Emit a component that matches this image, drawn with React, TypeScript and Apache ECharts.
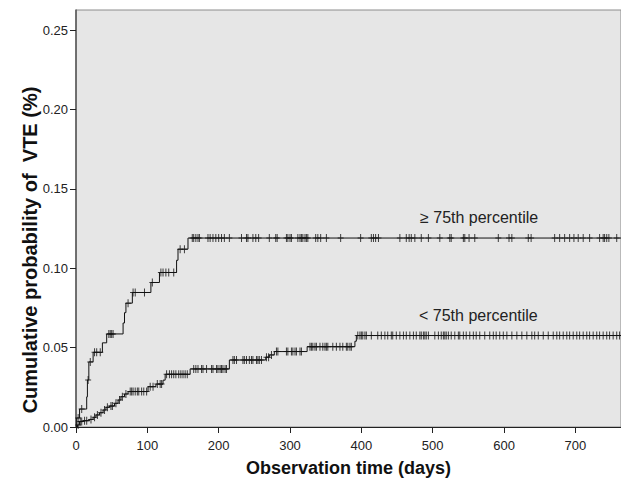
import React, { useEffect, useRef } from "react";
import * as echarts from "echarts";

// ---- Data ----
const xTicks = [0, 100, 200, 300, 400, 500, 600, 700];
const yTicks = [0, 0.05, 0.1, 0.15, 0.2, 0.25];
const X_MAX = 764;
const Y_MAX = 0.2626;

// >= 75th percentile group: event times (days) and cumulative probability
const upperTimes = [0, 1, 5, 15, 16, 18, 24, 37, 43, 66, 68, 70, 79, 105, 117, 141, 143, 157];
const upperProb = [0, 0.0057, 0.0113, 0.019, 0.0296, 0.041, 0.047, 0.053, 0.0586, 0.0655, 0.072, 0.078, 0.0847, 0.091, 0.0973, 0.105, 0.112, 0.119];
const upperCensored = [
  3, 8, 17, 20, 26, 29, 34, 46, 48, 50, 52, 73, 80, 83, 96, 107, 119, 122, 126, 130, 137, 146, 152,
  163, 165, 168, 171, 173, 185, 188, 192, 196, 200, 204, 208, 215, 232, 239, 241, 248, 252, 256, 271,
  280, 282, 295, 297, 300, 302, 311, 314, 316, 318, 321, 323, 325, 336, 339, 343, 351, 371, 399, 414,
  417, 420, 424, 454, 463, 467, 470, 475, 484, 494, 510, 524, 526, 543, 545, 551, 559, 592, 607, 611,
  634, 638, 671, 678, 685, 692, 698, 704, 711, 720, 734, 739, 741, 744, 747, 758,
];

// < 75th percentile group
const lowerTimes = [0, 2, 5, 10, 19, 24, 28, 33, 38, 42, 47, 54, 59, 63, 68, 73, 101, 112, 122, 125, 160, 215, 266, 271, 278, 324, 391, 393];
const lowerProb = [0, 0.0013, 0.0034, 0.004, 0.0048, 0.0061, 0.0076, 0.009, 0.0107, 0.0124, 0.0132, 0.0149, 0.017, 0.0191, 0.0208, 0.0223, 0.0254, 0.027, 0.0295, 0.0332, 0.0366, 0.0422, 0.044, 0.0454, 0.0475, 0.0506, 0.054, 0.0576];
const lowerCensored = [
  3, 6, 8, 12, 15, 21, 26, 30, 35, 40, 44, 49, 51, 56, 61, 65, 70, 76, 78, 80, 83, 86, 88, 92, 95, 99,
  104, 108, 114, 118, 120, 127, 131, 134, 137, 140, 144, 147, 150, 153, 156, 165, 168, 171, 176, 178,
  183, 190, 192, 197, 199, 202, 204, 206, 209, 211, 220, 222, 225, 234, 236, 239, 243, 246, 248, 253,
  255, 257, 260, 267, 270, 274, 281, 283, 295, 297, 302, 304, 307, 309, 314, 316, 328, 330, 332, 335,
  337, 342, 346, 349, 351, 353, 360, 365, 370, 374, 379, 381, 384, 386, 395, 398, 400, 402, 405, 407,
  414, 423, 428, 433, 437, 442, 444, 449, 454, 459, 463, 468, 473, 477, 482, 484, 487, 489, 491, 494,
  503, 508, 512, 515, 517, 519, 522, 526, 531, 536, 538, 543, 547, 552, 557, 561, 566, 573, 580, 585,
  589, 594, 599, 604, 611, 618, 625, 632, 639, 643, 648, 655, 662, 669, 674, 678, 683, 688, 692, 697,
  702, 706, 711, 716, 720, 725, 730, 734, 739, 744, 748, 753, 758, 762,
];

const upperLabel = "\u2265 75th percentile";
const lowerLabel = "< 75th percentile";
const xTitle = "Observation time (days)";
const yTitle = "Cumulative probability of  VTE (%)";

function stepAt(times: number[], probs: number[], t: number) {
  let v = probs[0];
  for (let i = 0; i < times.length; i++) if (times[i] <= t) v = probs[i];
  return v;
}
function stepSeries(times: number[], probs: number[]) {
  const d = times.map((t, i) => [t, probs[i]]);
  d.push([X_MAX, probs[probs.length - 1]]);
  return d;
}
function censorSeries(times: number[], probs: number[], cens: number[]) {
  return cens.map((t) => [t, stepAt(times, probs, t)]);
}

const FONT = "'Liberation Sans', Arial, Helvetica, sans-serif";
const PLUS = "path://M2.5,0h1v8h-1zM0,3.5h6v1h-6z";

export default function App() {
  const ref = useRef<HTMLDivElement>(null);
  useEffect(() => {
    const chart = echarts.init(ref.current!, null, { renderer: "svg" });
    const lineStyle = { color: "#111", width: 1 };
    chart.setOption({
      animation: false,
      grid: {
        left: 76, right: 0, top: 10, bottom: 52, show: true,
        backgroundColor: "#e6e6e6", borderColor: "#8c8c8c", borderWidth: 1,
      },
      xAxis: {
        type: "value", min: 0, max: X_MAX, interval: 100,
        axisLine: { show: true, onZero: false, lineStyle: { color: "#222", width: 1 } },
        axisTick: { show: true, length: 6, customValues: xTicks, lineStyle: { color: "#222" } },
        axisLabel: { customValues: xTicks, margin: 12, fontSize: 13, color: "#222", fontFamily: FONT },
        splitLine: { show: false },
      },
      yAxis: {
        type: "value", min: 0, max: Y_MAX, interval: 0.05,
        axisLine: { show: true, onZero: false, lineStyle: { color: "#555", width: 1.5 } },
        axisTick: { show: true, length: 6, customValues: yTicks, lineStyle: { color: "#222" } },
        axisLabel: {
          customValues: yTicks, margin: 8, fontSize: 13, color: "#222", fontFamily: FONT,
          formatter: (v: number) => v.toFixed(2),
        },
        splitLine: { show: false },
      },
      series: [
        { type: "line", step: "end", data: stepSeries(upperTimes, upperProb), showSymbol: false, lineStyle, silent: true },
        { type: "line", step: "end", data: stepSeries(lowerTimes, lowerProb), showSymbol: false, lineStyle, silent: true },
        { type: "scatter", data: censorSeries(upperTimes, upperProb, upperCensored), symbol: PLUS, symbolSize: [6, 8], itemStyle: { color: "#111" }, silent: true },
        { type: "scatter", data: censorSeries(lowerTimes, lowerProb, lowerCensored), symbol: PLUS, symbolSize: [6, 8], itemStyle: { color: "#111" }, silent: true },
      ],
      graphic: [
        { type: "text", x: 420, y: 217, style: { text: upperLabel, fontSize: 16, fontFamily: FONT, fill: "#222", verticalAlign: "middle", align: "left" } },
        { type: "text", x: 419, y: 315, style: { text: lowerLabel, fontSize: 16, fontFamily: FONT, fill: "#222", verticalAlign: "middle", align: "left" } },
        { type: "text", x: 348.5, y: 468, style: { text: xTitle, fontSize: 18, fontWeight: "bold", fontFamily: FONT, fill: "#111", verticalAlign: "middle", align: "center" } },
        { type: "text", x: 30, y: 250, rotation: Math.PI / 2, style: { text: yTitle, fontSize: 20, fontWeight: "bold", fontFamily: FONT, fill: "#111", verticalAlign: "middle", align: "center" } },
      ],
    });
    return () => chart.dispose();
  }, []);
  return <div ref={ref} style={{ position: "fixed", left: 0, top: 0, width: 621, height: 479, background: "#fff" }} />;
}
